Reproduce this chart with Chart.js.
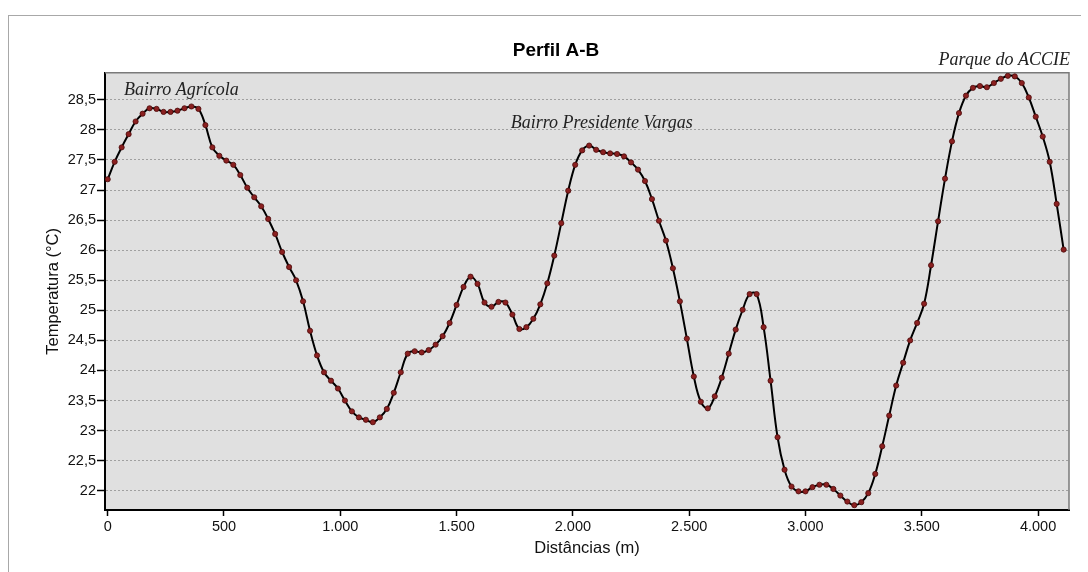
<!DOCTYPE html>
<html lang="pt-BR">
<head>
<meta charset="utf-8">
<title>Perfil A-B</title>
<script src="https://cdn.jsdelivr.net/npm/chart.js@4.4.1/dist/chart.umd.min.js"></script>
<style>
  html, body { margin:0; padding:0; background:#fff; overflow:hidden; }
  #wrap { position:relative; width:1088px; height:572px; overflow:hidden; }
  #frame { position:absolute; left:8px; top:15px; width:1072px; height:600px;
           border-left:1px solid #a8a8a8; border-top:1px solid #a8a8a8; }
  #perfil { position:absolute; left:0; top:0; }
</style>
</head>
<body>
<div id="wrap">
  <div id="frame"></div>
  <canvas id="perfil" width="1088" height="572"></canvas>
</div>
<script>
// distancia ao longo do perfil (m)
const distances = [
  0,30,60,90,120,150,180,210,240,270,300,330,360,390,420,450,480,510,540,570,
  600,630,660,690,720,750,780,810,840,870,900,930,960,990,1020,1050,1080,1110,1140,1170,
  1200,1230,1260,1290,1320,1350,1380,1410,1440,1470,1500,1530,1560,1590,1620,1650,1680,1710,1740,1770,
  1800,1830,1860,1890,1920,1950,1980,2010,2040,2070,2100,2130,2160,2190,2220,2250,2280,2310,2340,2370,
  2400,2430,2460,2490,2520,2550,2580,2610,2640,2670,2700,2730,2760,2790,2820,2850,2880,2910,2940,2970,
  3000,3030,3060,3090,3120,3150,3180,3210,3240,3270,3300,3330,3360,3390,3420,3450,3480,3510,3540,3570,
  3600,3630,3660,3690,3720,3750,3780,3810,3840,3870,3900,3930,3960,3990,4020,4050,4080,4110
];

// temperatura (°C)
const temperatures = [
  27.18, 27.47, 27.71, 27.93, 28.14, 28.27, 28.36, 28.35, 28.30, 28.30,
  28.32, 28.36, 28.39, 28.35, 28.08, 27.71, 27.57, 27.49, 27.42, 27.25,
  27.04, 26.88, 26.73, 26.52, 26.27, 25.97, 25.72, 25.50, 25.15, 24.66,
  24.25, 23.97, 23.83, 23.70, 23.50, 23.32, 23.22, 23.18, 23.14, 23.22,
  23.36, 23.63, 23.97, 24.28, 24.32, 24.30, 24.34, 24.43, 24.57, 24.79,
  25.09, 25.39, 25.56, 25.44, 25.13, 25.06, 25.14, 25.13, 24.93, 24.69,
  24.72, 24.86, 25.10, 25.45, 25.91, 26.45, 26.99, 27.42, 27.66, 27.74,
  27.67, 27.63, 27.61, 27.60, 27.56, 27.46, 27.34, 27.15, 26.85, 26.49,
  26.16, 25.70, 25.15, 24.53, 23.90, 23.48, 23.37, 23.57, 23.88, 24.28,
  24.68, 25.01, 25.27, 25.27, 24.72, 23.83, 22.89, 22.35, 22.07, 21.99,
  21.99, 22.06, 22.10, 22.10, 22.03, 21.92, 21.82, 21.76, 21.81, 21.96,
  22.28, 22.74, 23.25, 23.75, 24.13, 24.50, 24.79, 25.11, 25.75, 26.48,
  27.19, 27.81, 28.28, 28.57, 28.70, 28.73, 28.71, 28.78, 28.85, 28.90,
  28.89, 28.78, 28.54, 28.22, 27.89, 27.47, 26.77, 26.01
];

// marcas dos eixos
const xTicks = [0, 500, 1000, 1500, 2000, 2500, 3000, 3500, 4000];
const yTicks = [22, 22.5, 23, 23.5, 24, 24.5, 25, 25.5, 26, 26.5, 27, 27.5, 28, 28.5];

// rotulos dos bairros (posicao em unidades dos eixos)
const placeNames = ['Bairro Agrícola', 'Bairro Presidente Vargas', 'Parque do ACCIE'];
const placeDist  = [70, 1733, 4137];
const placeTemp  = [28.58, 28.03, 29.08];
const placeAlign = ['left', 'left', 'right'];

const SANS = '"Liberation Sans", Arial, sans-serif';
const SERIF = '"Liberation Serif", "Times New Roman", serif';

const plotArea = {
  id: 'plotArea',
  beforeDraw(chart) {
    const {ctx, chartArea: a} = chart;
    ctx.save();
    ctx.fillStyle = '#e0e0e0';
    ctx.fillRect(a.left, a.top, a.right - a.left, a.bottom - a.top);
    ctx.restore();
  },
  beforeDatasetsDraw(chart) {
    const {ctx, chartArea: a} = chart;
    ctx.save();
    ctx.strokeStyle = '#7a7a7a';
    ctx.lineWidth = 1.5;
    ctx.beginPath();
    ctx.moveTo(a.left, a.top);
    ctx.lineTo(a.right, a.top);
    ctx.lineTo(a.right, a.bottom);
    ctx.stroke();
    ctx.restore();
  },
  afterDraw(chart) {
    const {ctx, scales: {x, y}} = chart;
    ctx.save();
    ctx.font = 'italic 18px ' + SERIF;
    ctx.fillStyle = '#222';
    ctx.textBaseline = 'alphabetic';
    placeNames.forEach((name, i) => {
      ctx.textAlign = placeAlign[i];
      ctx.fillText(name, x.getPixelForValue(placeDist[i]), y.getPixelForValue(placeTemp[i]));
    });
    ctx.restore();
  }
};

const fmtX = v => String(v).replace(/\B(?=(\d{3})+(?!\d))/g, '.');
const fmtY = v => String(v).replace('.', ',');

new Chart(document.getElementById('perfil'), {
  type: 'line',
  data: {
    datasets: [{
      data: distances.map((d, i) => ({x: d, y: temperatures[i]})),
      borderColor: '#000',
      borderWidth: 2,
      tension: 0.4,
      pointRadius: 2.6,
      pointBackgroundColor: '#8b2020',
      pointBorderColor: '#4a0a0a',
      pointBorderWidth: 0.8,
      fill: false
    }]
  },
  options: {
    responsive: false,
    animation: false,
    events: [],
    layout: {padding: {left: 43, right: 19, top: 0, bottom: 0}},
    plugins: {
      legend: {display: false},
      tooltip: {enabled: false},
      title: {
        display: true,
        text: 'Perfil A-B',
        color: '#000',
        font: {family: SANS, size: 19, weight: 'bold'},
        padding: {top: 39, bottom: 11}
      }
    },
    scales: {
      x: {
        type: 'linear',
        min: -11.6,
        max: 4133,
        afterFit: s => { s.height = 62; },
        afterBuildTicks: s => { s.ticks = xTicks.map(v => ({value: v})); },
        ticks: {callback: fmtX, color: '#111', autoSkip: false,
                font: {family: SANS, size: 14.5}, padding: 2, maxRotation: 0},
        grid: {drawOnChartArea: false, drawTicks: true, tickLength: 6, tickColor: '#000', tickWidth: 1.5},
        border: {display: true, color: '#000', width: 2},
        title: {display: true, text: 'Distâncias (m)', color: '#111',
                font: {family: SANS, size: 16.5}, padding: {top: 0, bottom: 14}}
      },
      y: {
        min: 21.68,
        max: 28.95,
        afterFit: s => { s.width = 62; },
        afterBuildTicks: s => { s.ticks = yTicks.map(v => ({value: v})); },
        ticks: {callback: fmtY, color: '#111', autoSkip: false,
                font: {family: SANS, size: 14.5}, padding: 1},
        grid: {color: '#a0a0a0', lineWidth: 1, tickLength: 8, tickColor: '#000', tickWidth: 1.5,
               tickBorderDash: []},
        border: {display: true, color: '#000', width: 2, dash: [2, 2]},
        title: {display: true, text: 'Temperatura (°C)', color: '#111',
                font: {family: SANS, size: 16.5}, padding: {top: 1, bottom: 0}}
      }
    }
  },
  plugins: [plotArea]
});
</script>
</body>
</html>
